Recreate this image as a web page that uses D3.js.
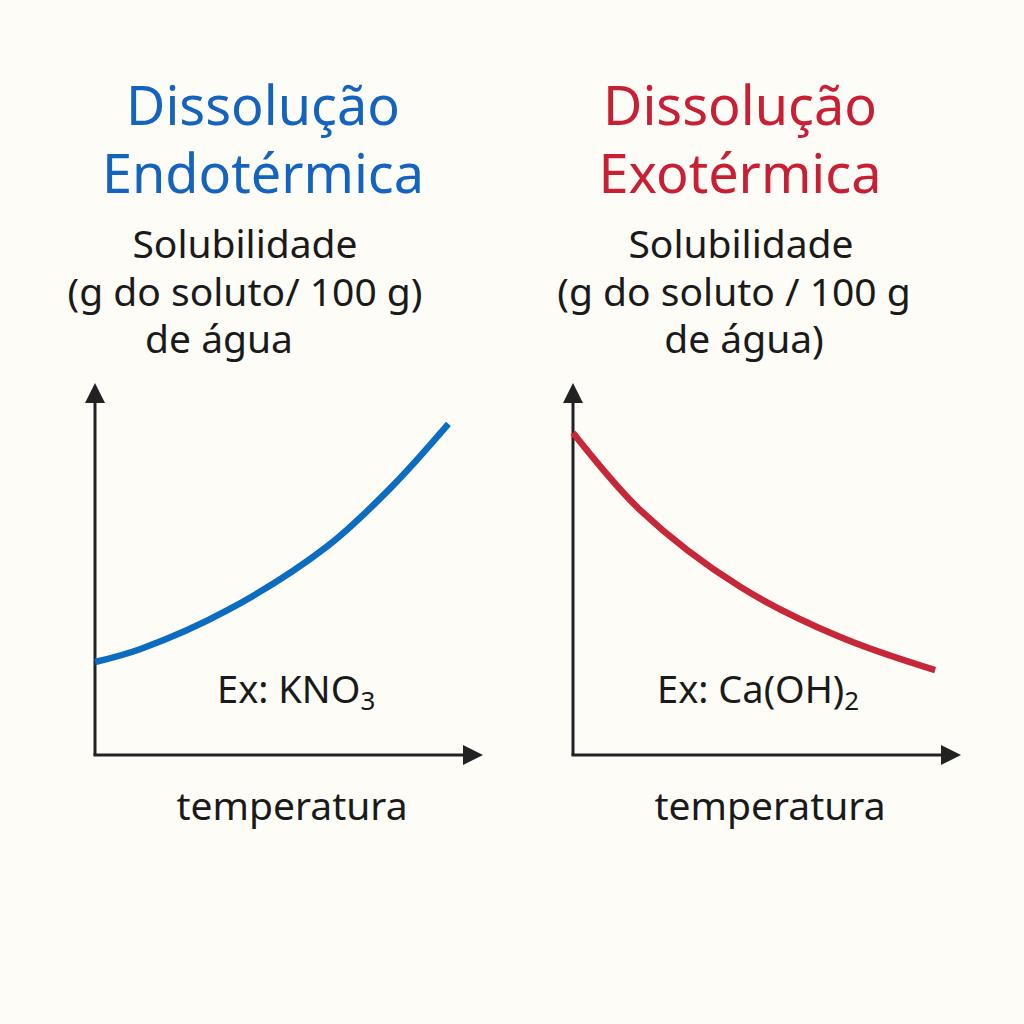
<!DOCTYPE html>
<html><head><meta charset="utf-8">
<script src="https://cdn.jsdelivr.net/npm/d3@7"></script>
<style>
html,body{margin:0;padding:0;background:#fdfcf7;}
svg{display:block;}
text{font-family:"Noto Sans","Open Sans",sans-serif;}
</style></head><body>
<svg id="c" width="1024" height="1024"></svg>
<script>
// Data (arbitrary units 0-100)
const endoTemp = [0, 12, 35, 61, 78, 93];
const endoSol  = [25, 28.5, 39, 56, 72, 89];
const exoTemp  = [0, 17.6, 44, 70.3, 95.3];
const exoSol   = [86.6, 65.9, 45.2, 31.7, 22.8];

const panels = [
  {title:["Dissolução","Endotérmica"], color:"#1463bf", line:"#0b6cc0",
   ylab:["Solubilidade","(g do soluto/ 100 g)","de água"],
   ex:["Ex: KNO","3"], xs:endoTemp, ys:endoSol, ox:95, cx:263, labCx:[245,245,219], exX:217},
  {title:["Dissolução","Exotérmica"], color:"#c81f35", line:"#c6283a",
   ylab:["Solubilidade","(g do soluto / 100 g","de água)"],
   ex:["Ex: Ca(OH)","2"], xs:exoTemp, ys:exoSol, ox:573, cx:740, labCx:[741,734,744], exX:657}
];

const svg = d3.select("#c");
svg.append("rect").attr("width",1024).attr("height",1024).attr("fill","#fdfcf7");

panels.forEach(p=>{
  const g = svg.append("g");
  const x = d3.scaleLinear().domain([0,100]).range([p.ox, p.ox+365]);
  const y = d3.scaleLinear().domain([0,100]).range([755, 383]);

  // titles
  g.selectAll("text.t").data(p.title).join("text")
    .attr("x",p.cx).attr("y",(d,i)=>125+i*68)
    .attr("text-anchor","middle").attr("font-size",54)
    .attr("fill",p.color).text(d=>d);
  // y label
  g.selectAll("text.l").data(p.ylab).join("text")
    .attr("x",(d,i)=>p.labCx[i]).attr("y",(d,i)=>258+i*47.5)
    .attr("text-anchor","middle").attr("font-size",39)
    .attr("fill","#1a1a1a").text(d=>d);

  // axes
  const ax = g.append("g").attr("stroke","#222").attr("stroke-width",3).attr("fill","none");
  ax.append("line").attr("x1",x(0)).attr("y1",y(0)).attr("x2",x(0)).attr("y2",y(100)+10);
  ax.append("line").attr("x1",x(0)-1.5).attr("y1",y(0)).attr("x2",x(100)+4).attr("y2",y(0));
  g.append("path").attr("fill","#222")
    .attr("d",`M${x(0)},${y(100)} L${x(0)-10},${y(100)+20} L${x(0)+10},${y(100)+20} Z`);
  g.append("path").attr("fill","#222")
    .attr("d",`M${x(100)+23},${y(0)} L${x(100)+3},${y(0)-10} L${x(100)+3},${y(0)+10} Z`);

  // curve
  const xc = d3.scaleLinear().domain([0,100]).range([p.ox, p.ox+380]);
  const pts = p.xs.map((v,i)=>[v,p.ys[i]]);
  g.append("path").datum(pts)
    .attr("fill","none").attr("stroke",p.line).attr("stroke-width",6.5)
    .attr("d",d3.line().x(d=>xc(d[0])).y(d=>y(d[1])).curve(d3.curveCatmullRom));

  // example label
  const t = g.append("text").attr("x",p.exX).attr("y",703)
    .attr("font-size",38).attr("fill","#1a1a1a");
  t.append("tspan").text(p.ex[0]);
  t.append("tspan").attr("font-size",26).attr("dy",7).text(p.ex[1]);

  // x label
  g.append("text").attr("x",p.ox+197).attr("y",820)
    .attr("text-anchor","middle").attr("font-size",39)
    .attr("fill","#1a1a1a").text("temperatura");
});
</script>
</body></html>
